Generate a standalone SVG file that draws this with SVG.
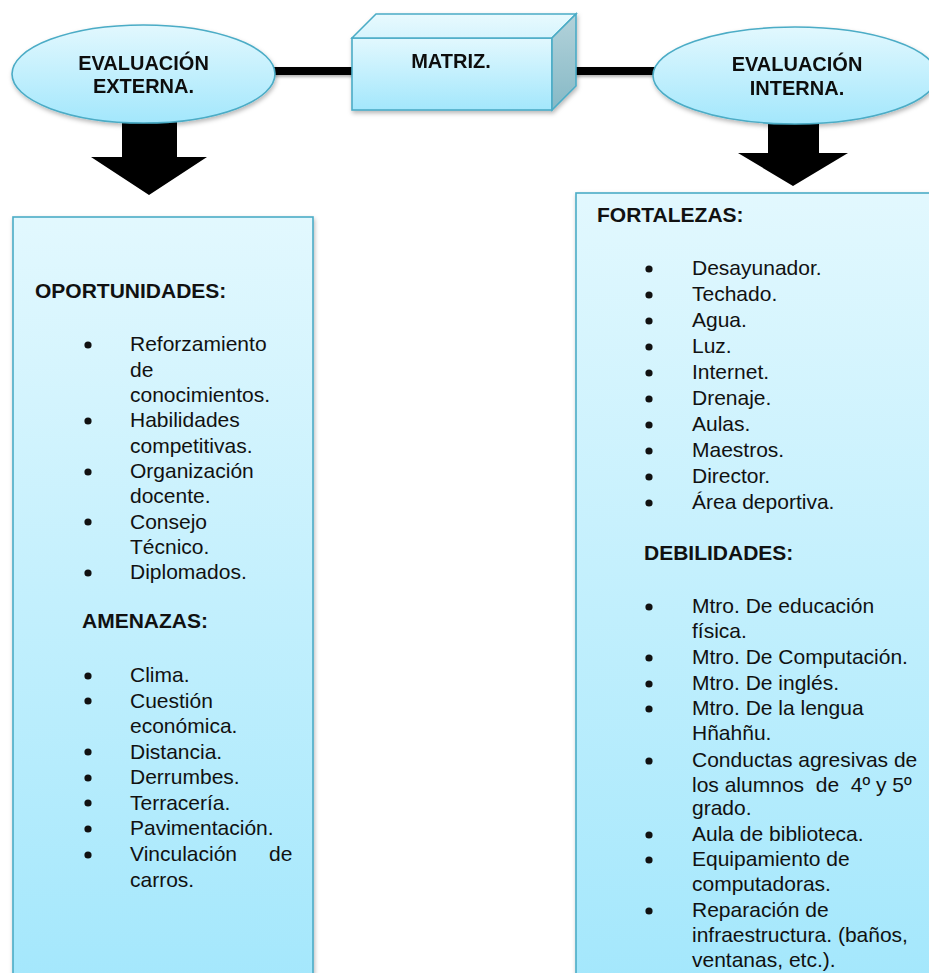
<svg xmlns="http://www.w3.org/2000/svg" width="929" height="973" viewBox="0 0 929 973">
  <style>
    .shape { stroke: #4bacc6; stroke-width: 1.6; }
    .label { font-family: "Liberation Sans", Arial, sans-serif; font-weight: bold; font-size: 20px; fill: #111; text-anchor: middle; }
    .head { font-family: "Liberation Sans", Arial, sans-serif; font-weight: bold; font-size: 21px; fill: #111; }
    .item { font-family: "Liberation Sans", Arial, sans-serif; font-size: 21px; fill: #111; }
    .bullet { fill: #111; }
    .conn { fill: #000; }
    .blockarrow { fill: #000; }
  </style>
  <defs>
    <linearGradient id="aqua" x1="0" y1="0" x2="0" y2="1">
      <stop offset="0" stop-color="#e2f8fe"/>
      <stop offset="1" stop-color="#a3e7fc"/>
    </linearGradient>
    <linearGradient id="aquaTop" x1="0" y1="0" x2="0" y2="1">
      <stop offset="0" stop-color="#e8fafe"/>
      <stop offset="1" stop-color="#d6f4fd"/>
    </linearGradient>
    <linearGradient id="aquaSide" x1="0" y1="0" x2="0" y2="1">
      <stop offset="0" stop-color="#b3d2da"/>
      <stop offset="1" stop-color="#86b9c6"/>
    </linearGradient>
    <filter id="shadow" x="-10%" y="-10%" width="120%" height="130%">
      <feDropShadow dx="1" dy="2.5" stdDeviation="2" flood-color="#000" flood-opacity="0.28"/>
    </filter>
    <filter id="lineShadow" filterUnits="userSpaceOnUse" x="0" y="0" width="929" height="973">
      <feDropShadow dx="1" dy="2" stdDeviation="1.5" flood-color="#000" flood-opacity="0.3"/>
    </filter>
  </defs>

  <g id="connectors">
    <rect class="conn" x="272" y="67" width="82" height="8" filter="url(#lineShadow)"/>
    <rect class="conn" x="575" y="67" width="81" height="8" filter="url(#lineShadow)"/>
    <polygon class="blockarrow" points="122,122 177,122 177,157 207,157 149,195 91,157 122,157"/>
    <polygon class="blockarrow" points="768,123 819,123 819,153 848,153 793,186 738,153 768,153"/>
  </g>

  <g id="evaluacion-externa" filter="url(#shadow)">
    <ellipse class="shape" cx="143.5" cy="74" rx="131.5" ry="49" fill="url(#aqua)"/>
    <text class="label" x="143.5" y="70">EVALUACIÓN</text>
    <text class="label" x="143.5" y="93">EXTERNA.</text>
  </g>

  <g id="matriz" filter="url(#shadow)">
    <rect class="shape" x="352" y="38" width="200" height="72" fill="url(#aqua)"/>
    <polygon class="shape" points="352,38 376,14 576,14 552,38" fill="url(#aquaTop)"/>
    <polygon class="shape" points="552,38 576,14 576,86 552,110" fill="url(#aquaSide)"/>
    <text class="label" x="451" y="68">MATRIZ.</text>
  </g>

  <g id="evaluacion-interna" filter="url(#shadow)">
    <ellipse class="shape" cx="795" cy="75.5" rx="142" ry="48.5" fill="url(#aqua)"/>
    <text class="label" x="797" y="71">EVALUACIÓN</text>
    <text class="label" x="797" y="95">INTERNA.</text>
  </g>

  <g id="externa-lista">
    <rect class="shape" x="13" y="217" width="300" height="780" fill="url(#aqua)" filter="url(#shadow)"/>
    <text class="head" x="35" y="298">OPORTUNIDADES:</text>
    <g class="bullet">
      <circle cx="88" cy="345" r="3.6"/>
      <circle cx="88" cy="421" r="3.6"/>
      <circle cx="88" cy="472" r="3.6"/>
      <circle cx="88" cy="522" r="3.6"/>
      <circle cx="88" cy="573" r="3.6"/>
    </g>
    <text class="item" x="130" y="351">Reforzamiento</text>
    <text class="item" x="130" y="376.5">de</text>
    <text class="item" x="130" y="402">conocimientos.</text>
    <text class="item" x="130" y="427">Habilidades</text>
    <text class="item" x="130" y="452.5">competitivas.</text>
    <text class="item" x="130" y="478">Organización</text>
    <text class="item" x="130" y="503">docente.</text>
    <text class="item" x="130" y="528.5">Consejo</text>
    <text class="item" x="130" y="554">Técnico.</text>
    <text class="item" x="130" y="579">Diplomados.</text>

    <text class="head" x="82" y="628">AMENAZAS:</text>
    <g class="bullet">
      <circle cx="88" cy="676" r="3.6"/>
      <circle cx="88" cy="701" r="3.6"/>
      <circle cx="88" cy="752" r="3.6"/>
      <circle cx="88" cy="778" r="3.6"/>
      <circle cx="88" cy="803" r="3.6"/>
      <circle cx="88" cy="829" r="3.6"/>
      <circle cx="88" cy="855" r="3.6"/>
    </g>
    <text class="item" x="130" y="682">Clima.</text>
    <text class="item" x="130" y="707.5">Cuestión</text>
    <text class="item" x="130" y="733">económica.</text>
    <text class="item" x="130" y="758.5">Distancia.</text>
    <text class="item" x="130" y="784">Derrumbes.</text>
    <text class="item" x="130" y="809.5">Terracería.</text>
    <text class="item" x="130" y="835">Pavimentación.</text>
    <text class="item" x="130" y="861">Vinculación</text>
    <text class="item" x="269" y="861">de</text>
    <text class="item" x="130" y="886.5">carros.</text>
  </g>

  <g id="interna-lista">
    <rect class="shape" x="576" y="193" width="370" height="800" fill="url(#aqua)" filter="url(#shadow)"/>
    <text class="head" x="597" y="222">FORTALEZAS:</text>
    <g class="bullet">
      <circle cx="649" cy="269" r="3.6"/>
      <circle cx="649" cy="295" r="3.6"/>
      <circle cx="649" cy="321" r="3.6"/>
      <circle cx="649" cy="347" r="3.6"/>
      <circle cx="649" cy="373" r="3.6"/>
      <circle cx="649" cy="399" r="3.6"/>
      <circle cx="649" cy="425" r="3.6"/>
      <circle cx="649" cy="451" r="3.6"/>
      <circle cx="649" cy="477" r="3.6"/>
      <circle cx="649" cy="503" r="3.6"/>
    </g>
    <text class="item" x="692" y="275">Desayunador.</text>
    <text class="item" x="692" y="301">Techado.</text>
    <text class="item" x="692" y="327">Agua.</text>
    <text class="item" x="692" y="353">Luz.</text>
    <text class="item" x="692" y="379">Internet.</text>
    <text class="item" x="692" y="405">Drenaje.</text>
    <text class="item" x="692" y="431">Aulas.</text>
    <text class="item" x="692" y="457">Maestros.</text>
    <text class="item" x="692" y="483">Director.</text>
    <text class="item" x="692" y="509">Área deportiva.</text>

    <text class="head" x="644" y="560">DEBILIDADES:</text>
    <g class="bullet">
      <circle cx="649" cy="607" r="3.6"/>
      <circle cx="649" cy="658" r="3.6"/>
      <circle cx="649" cy="684" r="3.6"/>
      <circle cx="649" cy="709" r="3.6"/>
      <circle cx="649" cy="761" r="3.6"/>
      <circle cx="649" cy="835" r="3.6"/>
      <circle cx="649" cy="860" r="3.6"/>
      <circle cx="649" cy="911" r="3.6"/>
    </g>
    <text class="item" x="692" y="613">Mtro. De educación</text>
    <text class="item" x="692" y="638">física.</text>
    <text class="item" x="692" y="664">Mtro. De Computación.</text>
    <text class="item" x="692" y="690">Mtro. De inglés.</text>
    <text class="item" x="692" y="715">Mtro. De la lengua</text>
    <text class="item" x="692" y="740">Hñahñu.</text>
    <text class="item" x="692" y="767">Conductas agresivas de</text>
    <text class="item" x="692" y="792" xml:space="preserve">los alumnos  de  4º y 5º</text>
    <text class="item" x="692" y="815">grado.</text>
    <text class="item" x="692" y="841">Aula de biblioteca.</text>
    <text class="item" x="692" y="866">Equipamiento de</text>
    <text class="item" x="692" y="891">computadoras.</text>
    <text class="item" x="692" y="917">Reparación de</text>
    <text class="item" x="692" y="942">infraestructura. (baños,</text>
    <text class="item" x="692" y="967">ventanas, etc.).</text>
  </g>
</svg>
